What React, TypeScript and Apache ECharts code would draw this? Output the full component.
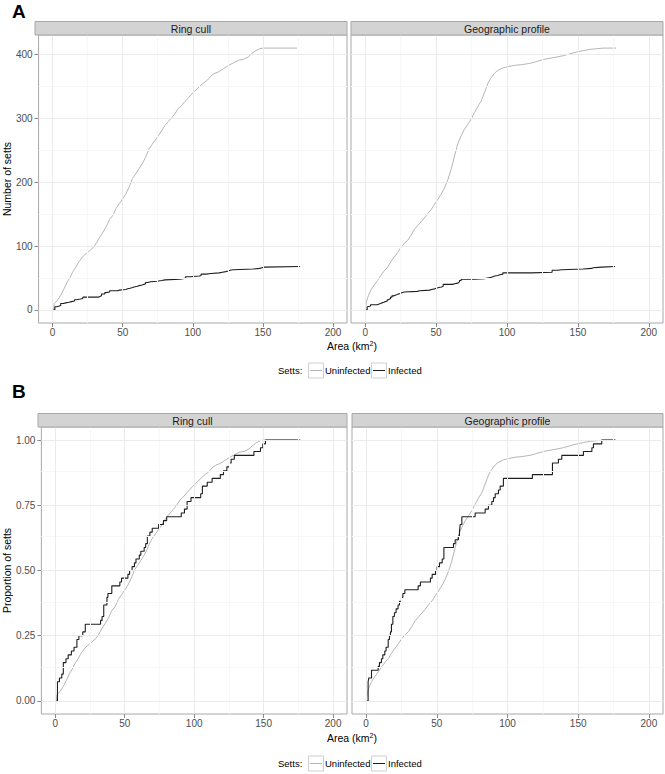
import React, { useEffect, useRef } from 'react';
import * as echarts from 'echarts';

// ---- data ----
const panelNames = ['Ring cull', 'Geographic profile'];
const groupNames = ['Uninfected', 'Infected'];
const xTicks = [0, 50, 100, 150, 200];
const xMinor = [25, 75, 125, 175];
const countTicks = [0, 100, 200, 300, 400];
const countMinor = [50, 150, 250, 350];
const propTicks = [0, 0.25, 0.5, 0.75, 1];
const propMinor = [0.125, 0.375, 0.625, 0.875];

// Ring cull, uninfected setts: area (km2) and cumulative number
const ringUninfArea = [0.7, 1.2, 3.5, 5.8, 8.1, 10.5, 12.3, 14, 16.3, 18.6, 22.1, 25.6, 29.1, 31.4, 33.7, 36, 38.4, 40.7, 43, 45.3, 47.7, 50, 52.3, 54.7, 57, 59.3, 61.6, 64, 66.3, 68.6, 70.9, 73.3, 75.6, 77.9, 80.2, 82.6, 84.9, 87.2, 89.5, 91.9, 94.2, 96.5, 98.8, 101.2, 103.5, 105.8, 108.1, 110.5, 112.8, 115.1, 118.6, 122.1, 125.6, 129.1, 132.6, 136, 139.5, 141.9, 144.2, 147.7, 150, 174.4];
const ringUninfCount = [0, 10, 15, 23, 33, 44, 50, 58, 66, 75, 85, 91, 98, 105, 114, 122, 131, 142, 148, 159, 167, 174, 182, 193, 206, 213, 221, 229, 239, 251, 259, 266, 273, 281, 289, 295, 301, 307, 315, 320, 326, 331, 337, 342, 347, 352, 356, 360, 366, 370, 373, 378, 383, 387, 391, 392, 396, 401, 405, 409, 410, 410];

// Ring cull, infected setts
const ringInfArea = [0.7, 1.6, 3.0, 4.7, 5.8, 7.7, 9.3, 11.6, 13.5, 15.6, 17.0, 19.8, 21.6, 32.6, 33.7, 34.9, 37.2, 37.9, 40.7, 46.5, 47.7, 52.3, 53.5, 55.3, 57.0, 58.1, 60.5, 61.6, 64.0, 65.1, 66.3, 68.1, 69.8, 74.4, 77.9, 80.2, 90.7, 93.0, 94.9, 97.7, 104.7, 105.9, 109.4, 112.9, 118.8, 121.1, 123.5, 125.4, 126.6, 128.9, 143.0, 147.7, 149.4, 151.3, 176.4];
const ringInfCount = [0, 5, 6, 7, 10, 11, 12, 13, 14, 16, 17, 18, 20, 21, 22, 25, 27, 28, 30, 31, 32, 33, 34, 35, 36, 37, 38, 39, 40, 41, 43, 44, 45, 46, 47, 48, 49, 50, 52, 53, 54, 56, 57, 58, 59, 60, 61, 62, 63, 64, 65, 66, 67, 68, 68];

// Geographic profile, uninfected setts
const geoUninfArea = [0, 0.9, 2.4, 4, 6.4, 8.7, 11.1, 13.4, 15.8, 18.2, 20.5, 22.9, 25.2, 27.6, 30, 32.3, 34.7, 37, 39.4, 41.7, 44.1, 46.5, 48.8, 51.2, 53.5, 55.9, 58.3, 60.6, 63, 65.3, 67.7, 70, 72.4, 74.8, 77.1, 79.5, 81.8, 84.2, 86.6, 88.9, 91.3, 93.6, 97.2, 100.7, 105.4, 110.1, 116, 120.8, 125.5, 130.2, 134.9, 139.6, 144.3, 149.1, 153.8, 158.5, 163.2, 167.9, 176.9];
const geoUninfCount = [0, 13, 23, 31, 39, 46, 54, 61, 67, 76, 83, 90, 98, 104, 109, 117, 126, 132, 138, 144, 151, 157, 165, 173, 181, 191, 204, 220, 241, 260, 273, 283, 291, 299, 309, 319, 327, 341, 355, 364, 371, 375, 379, 381, 383, 384, 386, 389, 392, 394, 396, 398, 401, 404, 406, 408, 409, 410, 410];

// Geographic profile, infected setts
const geoInfArea = [0.2, 1.4, 1.9, 3.8, 8.5, 9.4, 10.8, 11.8, 13.2, 14.1, 15.6, 16.5, 17.2, 17.9, 18.9, 20.0, 21.2, 22.6, 23.6, 25.0, 26.0, 27.4, 36.8, 38.4, 45.5, 46.7, 49.1, 50.2, 51.9, 53.8, 55.0, 61.8, 63.0, 65.3, 66.0, 66.5, 67.7, 77.1, 84.2, 86.5, 88.9, 90.1, 91.3, 93.6, 94.8, 97.1, 117.6, 131.8, 136.0, 138.4, 153.7, 159.7, 160.8, 166.7, 176.2];
const geoInfCount = [0, 5, 6, 8, 9, 10, 11, 12, 13, 14, 16, 17, 18, 20, 22, 23, 24, 25, 26, 27, 28, 29, 30, 31, 32, 33, 34, 35, 36, 37, 40, 41, 42, 43, 44, 46, 48, 49, 50, 51, 52, 53, 54, 55, 56, 58, 59, 62, 63, 64, 65, 66, 67, 68, 68];

// ---- styling / layout ----
const FONT = '"Liberation Sans", Arial, Helvetica, sans-serif';
const UNINF_COLOR = '#b5b5b5';
const INF_COLOR = '#1e1e1e';
const BORDER = '#a8a8a8';
const STRIP_FILL = '#d3d3d3';
const MAJOR = '#ebebeb';
const MINOR = '#f7f7f7';

const layout = [
  { left: 35, top: 35, width: 312, height: 288, strip: 21.5 },
  { left: 351, top: 35, width: 312, height: 288, strip: 21.5 },
  { left: 38, top: 427, width: 309, height: 287, strip: 413.5 },
  { left: 352, top: 427, width: 311, height: 287, strip: 413.5 },
];

const sets = [
  { uA: ringUninfArea, uC: ringUninfCount, iA: ringInfArea, iC: ringInfCount },
  { uA: geoUninfArea, uC: geoUninfCount, iA: geoInfArea, iC: geoInfCount },
];

function pairs(xs: number[], ys: number[], total: number | null) {
  return xs.map((x, i) => [x, total ? ys[i] / total : ys[i]]);
}

function buildOption() {
  const grid = layout.map((l) => ({
    left: l.left, top: l.top, width: l.width, height: l.height,
    show: true, backgroundColor: '#ffffff', borderColor: BORDER, borderWidth: 1,
    containLabel: false,
  }));

  const xAxis = layout.map((_, k) => ({
    type: 'value', gridIndex: k, min: -10, max: 210,
    splitLine: { show: false },
    axisLine: { show: false, onZero: false },
    axisTick: { show: true, customValues: xTicks, length: 4, lineStyle: { color: '#8a8a8a' } },
    axisLabel: { customValues: xTicks, margin: 4, fontSize: 10, color: '#4d4d4d', fontFamily: FONT },
  }));

  const yAxis = layout.map((_, k) => {
    const prop = k >= 2;
    const left = k % 2 === 0;
    const ticks = prop ? propTicks : countTicks;
    return {
      type: 'value', gridIndex: k,
      min: prop ? -0.05 : -20.5, max: prop ? 1.05 : 430.5,
      splitLine: { show: false },
      axisLine: { show: false, onZero: false },
      axisTick: { show: left, customValues: ticks, length: 4, lineStyle: { color: '#8a8a8a' } },
      axisLabel: {
        show: left, customValues: ticks, margin: 6, fontSize: 10, color: '#4d4d4d', fontFamily: FONT,
        formatter: (v: number) => (prop ? v.toFixed(2) : String(v)),
      },
      name: left ? (prop ? 'Proportion of setts' : 'Number of setts') : '',
      nameLocation: 'middle',
      nameGap: prop ? 24 : 21,
      nameTextStyle: { fontSize: 10.5, color: '#000', fontFamily: FONT },
    };
  });

  const series: any[] = [];
  layout.forEach((_, k) => {
    const prop = k >= 2;
    const lineData: any[] = [];
    xMinor.forEach((v) => lineData.push({ xAxis: v, lineStyle: { color: MINOR, width: 1, type: 'solid' } }));
    (prop ? propMinor : countMinor).forEach((v) => lineData.push({ yAxis: v, lineStyle: { color: MINOR, width: 1, type: 'solid' } }));
    xTicks.forEach((v) => lineData.push({ xAxis: v, lineStyle: { color: MAJOR, width: 1, type: 'solid' } }));
    (prop ? propTicks : countTicks).forEach((v) => lineData.push({ yAxis: v, lineStyle: { color: MAJOR, width: 1, type: 'solid' } }));
    series.push({
      type: 'line', xAxisIndex: k, yAxisIndex: k, data: [], silent: true, z: 1,
      markLine: { silent: true, symbol: ['none', 'none'], label: { show: false }, data: lineData, animation: false },
    });
  });

  layout.forEach((_, k) => {
    const prop = k >= 2;
    const s = sets[k % 2];
    const uTotal = s.uC[s.uC.length - 1];
    const iTotal = s.iC[s.iC.length - 1];
    series.push({
      name: groupNames[0], type: 'line', xAxisIndex: k, yAxisIndex: k, z: 3,
      data: pairs(s.uA, s.uC, prop ? uTotal : null),
      showSymbol: false, symbol: 'none', silent: true,
      lineStyle: { color: UNINF_COLOR, width: 1 },
    });
    series.push({
      name: groupNames[1], type: 'line', xAxisIndex: k, yAxisIndex: k, z: 4,
      data: pairs(s.iA, s.iC, prop ? iTotal : null),
      step: 'end', showSymbol: false, symbol: 'none', silent: true,
      lineStyle: { color: INF_COLOR, width: 1.1 },
    });
  });

  const graphic: any[] = [];
  layout.forEach((l, k) => {
    graphic.push({
      type: 'rect', z: 10, silent: true,
      shape: { x: l.left, y: l.strip, width: l.width, height: l.top - l.strip },
      style: { fill: STRIP_FILL, stroke: BORDER, lineWidth: 1 },
    });
    graphic.push({
      type: 'text', z: 11, silent: true,
      x: l.left + l.width / 2, y: (l.strip + l.top) / 2 + 0.5,
      style: { text: panelNames[k % 2], fontSize: 10.5, fontFamily: FONT, fill: '#1a1a1a', align: 'center', verticalAlign: 'middle' },
    });
  });

  // panel letters
  graphic.push({ type: 'text', z: 11, x: 12, y: 2, style: { text: 'A', fontSize: 19, fontWeight: 'bold', fontFamily: FONT, fill: '#000' } });
  graphic.push({ type: 'text', z: 11, x: 12, y: 382, style: { text: 'B', fontSize: 19, fontWeight: 'bold', fontFamily: FONT, fill: '#000' } });

  // x axis titles
  [346, 738].forEach((yy) => {
    graphic.push({
      type: 'text', z: 11, x: 352, y: yy,
      style: {
        text: '{a|Area (km}{s|2}{a|)}', align: 'center', verticalAlign: 'middle',
        rich: {
          a: { fontSize: 10.5, fontFamily: FONT, fill: '#000' },
          s: { fontSize: 7, fontFamily: FONT, fill: '#000', verticalAlign: 'top', padding: [0, 0, 6, 0] },
        },
      },
    });
  });

  // legends
  [370, 763].forEach((cy) => {
    const fs = 9.5;
    const keySize = 15;
    let x = 278;
    graphic.push({ type: 'text', z: 11, x, y: cy, style: { text: 'Setts:', fontSize: fs, fontFamily: FONT, fill: '#000', verticalAlign: 'middle' } });
    x = 308;
    const keys = [
      { label: groupNames[0], color: UNINF_COLOR, kx: 308, tx: 325 },
      { label: groupNames[1], color: INF_COLOR, kx: 371, tx: 388 },
    ];
    keys.forEach((kk) => {
      graphic.push({
        type: 'rect', z: 11, shape: { x: kk.kx + 0.5, y: cy - keySize / 2 + 0.5, width: keySize, height: keySize },
        style: { fill: '#fff', stroke: '#cfcfcf', lineWidth: 1 },
      });
      graphic.push({
        type: 'line', z: 12, shape: { x1: kk.kx + 2, y1: cy + 0.5, x2: kk.kx + keySize - 1, y2: cy + 0.5 },
        style: { stroke: kk.color, lineWidth: 1 },
      });
      graphic.push({ type: 'text', z: 11, x: kk.tx, y: cy, style: { text: kk.label, fontSize: fs, fontFamily: FONT, fill: '#000', verticalAlign: 'middle' } });
    });
  });

  return {
    animation: false,
    backgroundColor: '#ffffff',
    textStyle: { fontFamily: FONT },
    grid, xAxis, yAxis, series, graphic,
  };
}

export default function App() {
  const ref = useRef<HTMLDivElement>(null);
  useEffect(() => {
    if (!ref.current) return;
    const chart = echarts.init(ref.current, undefined, { renderer: 'svg' });
    chart.setOption(buildOption() as any);
    return () => chart.dispose();
  }, []);
  return <div ref={ref} style={{ position: 'absolute', left: 0, top: 0, width: 665, height: 774 }} />;
}
